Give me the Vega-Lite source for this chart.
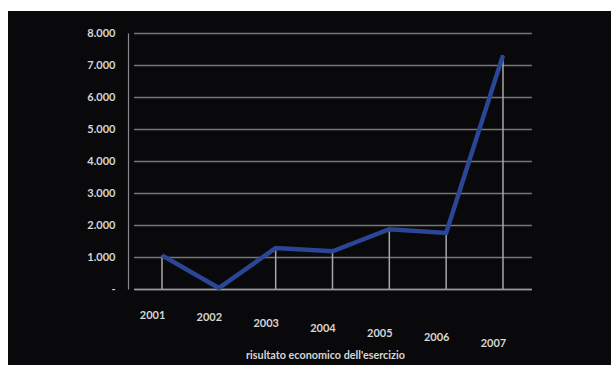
{
  "$schema": "https://vega.github.io/schema/vega-lite/v6.json",
  "width": 603,
  "height": 354,
  "autosize": {"type": "none"},
  "padding": {"left": 8, "top": 11, "right": 0, "bottom": 0},
  "background": "#ffffff",
  "config": {
    "view": {"fill": "#09090b", "stroke": null},
    "font": "Lato"
  },
  "datasets": {
    "risultato": [
      {"anno": "2001", "valore": 1050},
      {"anno": "2002", "valore": 30},
      {"anno": "2003", "valore": 1280},
      {"anno": "2004", "valore": 1180},
      {"anno": "2005", "valore": 1870},
      {"anno": "2006", "valore": 1750},
      {"anno": "2007", "valore": 7300}
    ]
  },
  "data": {"name": "risultato"},
  "encoding": {
    "x": {
      "field": "anno",
      "type": "ordinal",
      "scale": {
        "type": "point",
        "domain": ["2001", "2002", "2003", "2004", "2005", "2006", "2007"],
        "range": [125.6, 523.4],
        "padding": 0.5
      },
      "axis": {
        "orient": "bottom",
        "offset": -76,
        "domainColor": "#9a9a9a",
        "domainWidth": 1.5,
        "ticks": false,
        "grid": false,
        "labelAngle": 0,
        "labelBaseline": "middle",
        "labelOffset": -10,
        "labelPadding": {
          "condition": [
            {"test": "datum.value == '2002'", "value": 28},
            {"test": "datum.value == '2003'", "value": 34},
            {"test": "datum.value == '2004'", "value": 39},
            {"test": "datum.value == '2005'", "value": 44},
            {"test": "datum.value == '2006'", "value": 48},
            {"test": "datum.value == '2007'", "value": 54}
          ],
          "value": 26
        },
        "labelColor": "#d6d6d6",
        "labelFontSize": 11,
        "labelFontWeight": "bold",
        "title": "risultato economico dell'esercizio",
        "titleColor": "#d6d6d6",
        "titleFontSize": 10.8,
        "titleFontWeight": "bold",
        "titleX": 317,
        "titleY": 66,
        "titleBaseline": "middle"
      }
    },
    "y": {
      "field": "valore",
      "type": "quantitative",
      "scale": {"domain": [0, 8000], "range": [278, 22], "nice": false},
      "axis": {
        "orient": "left",
        "offset": -120,
        "values": [0, 1000, 2000, 3000, 4000, 5000, 6000, 7000, 8000],
        "labelExpr": "datum.value == 0 ? '-' : replace(format(datum.value, ','), ',', '.')",
        "domainColor": "#8a8a8a",
        "domainWidth": 1.2,
        "ticks": false,
        "labelPadding": 13,
        "labelColor": "#d6d6d6",
        "labelFontSize": 11,
        "labelFontWeight": "bold",
        "grid": true,
        "gridColor": "#777777",
        "gridWidth": 1.3,
        "title": null
      }
    }
  },
  "layer": [
    {
      "mark": {"type": "rule", "color": "#a8a8a8", "strokeWidth": 1.5},
      "encoding": {"y2": {"datum": 0}}
    },
    {
      "mark": {"type": "line", "color": "#2b4696", "strokeWidth": 4.5, "strokeJoin": "miter"}
    }
  ]
}
